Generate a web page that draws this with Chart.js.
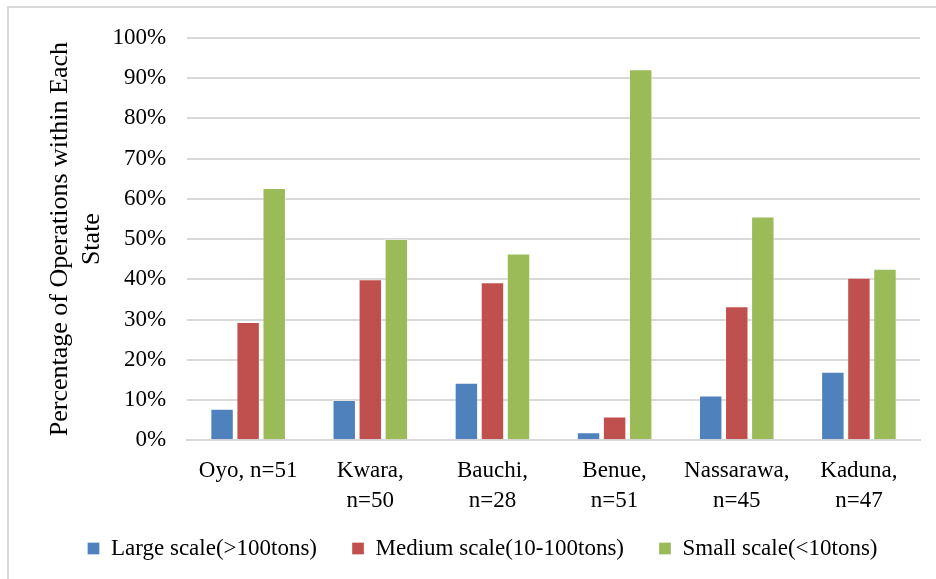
<!DOCTYPE html>
<html>
<head>
<meta charset="utf-8">
<script src="https://cdn.jsdelivr.net/npm/chart.js@4"></script>
<style>
  body { margin: 0; background: #fff; overflow: hidden; }
  #wrap { position: relative; width: 936px; height: 579px; overflow: hidden; }
  #frame { position: absolute; left: 7px; top: 6px; width: 1000px; height: 700px;
           border-left: 2px solid #d9d9d9; border-top: 2px solid #d9d9d9; }
  canvas { position: absolute; left: 0; top: 0; }
</style>
</head>
<body>
<div id="wrap">
  <div id="frame"></div>
  <canvas id="myChart" width="936" height="579"></canvas>
</div>
<script>
// states with sample size
let states = [
  'Oyo, n=51',
  ['Kwara,', 'n=50'],
  ['Bauchi,', 'n=28'],
  ['Benue,', 'n=51'],
  ['Nassarawa,', 'n=45'],
  ['Kaduna,', 'n=47']
];

// percent of operations in each state
let large = [7.8, 10.0, 14.3, 2.0, 11.1, 17.0];
let medium = [29.4, 40.0, 39.3, 5.9, 33.3, 40.4];
let small = [62.7, 50.0, 46.4, 92.2, 55.6, 42.6];

let yTicks = [0, 10, 20, 30, 40, 50, 60, 70, 80, 90, 100];

const font = 'Liberation Serif';
const ctx = document.getElementById('myChart').getContext('2d');

new Chart(ctx, {
  type: 'bar',
  data: {
    labels: states,
    datasets: [
      { label: 'Large scale(>100tons)', data: large, backgroundColor: '#4F81BD', borderColor: 'rgba(255,255,255,0.3)', borderWidth: 1 },
      { label: 'Medium scale(10-100tons)', data: medium, backgroundColor: '#C0504D', borderColor: 'rgba(255,255,255,0.3)', borderWidth: 1 },
      { label: 'Small scale(<10tons)', data: small, backgroundColor: '#9BBB59', borderColor: 'rgba(255,255,255,0.3)', borderWidth: 1 }
    ]
  },
  options: {
    responsive: false,
    animation: false,
    categoryPercentage: 0.64,
    barPercentage: 0.9,
    layout: { padding: { top: 38, left: 45, right: 16, bottom: 9 } },
    plugins: {
      tooltip: { enabled: false },
      legend: {
        position: 'bottom',
        labels: {
          font: { family: font, size: 23, lineHeight: 1 },
          color: '#000',
          boxWidth: 12,
          boxHeight: 12,
          padding: 35
        }
      }
    },
    scales: {
      x: {
        grid: { display: false },
        border: { display: true, color: '#d9d9d9', width: 2 },
        ticks: {
          color: '#000',
          font: { family: font, size: 23, lineHeight: 1.3 },
          padding: 8,
          maxRotation: 0
        },
        // let the labels sit into the legend's empty top padding (no clipping)
        afterFit: (axis) => {
          axis.height -= 22;
          axis._computeLabelArea = () => undefined;
        }
      },
      y: {
        min: 0,
        max: 100,
        afterBuildTicks: (axis) => { axis.ticks = yTicks.map(v => ({ value: v })); },
        grid: { color: '#d9d9d9', lineWidth: 2, drawTicks: true, tickLength: 16, tickColor: 'rgba(0,0,0,0)' },
        border: { display: false },
        ticks: {
          color: '#000',
          font: { family: font, size: 23 },
          padding: 5,
          callback: (v) => v + '%'
        },
        title: {
          display: true,
          text: ['Percentage of Operations within Each', 'State'],
          color: '#000',
          font: { family: font, size: 26, lineHeight: 1.2 },
          padding: { top: 0, bottom: 0 }
        }
      }
    }
  }
});
</script>
</body>
</html>
